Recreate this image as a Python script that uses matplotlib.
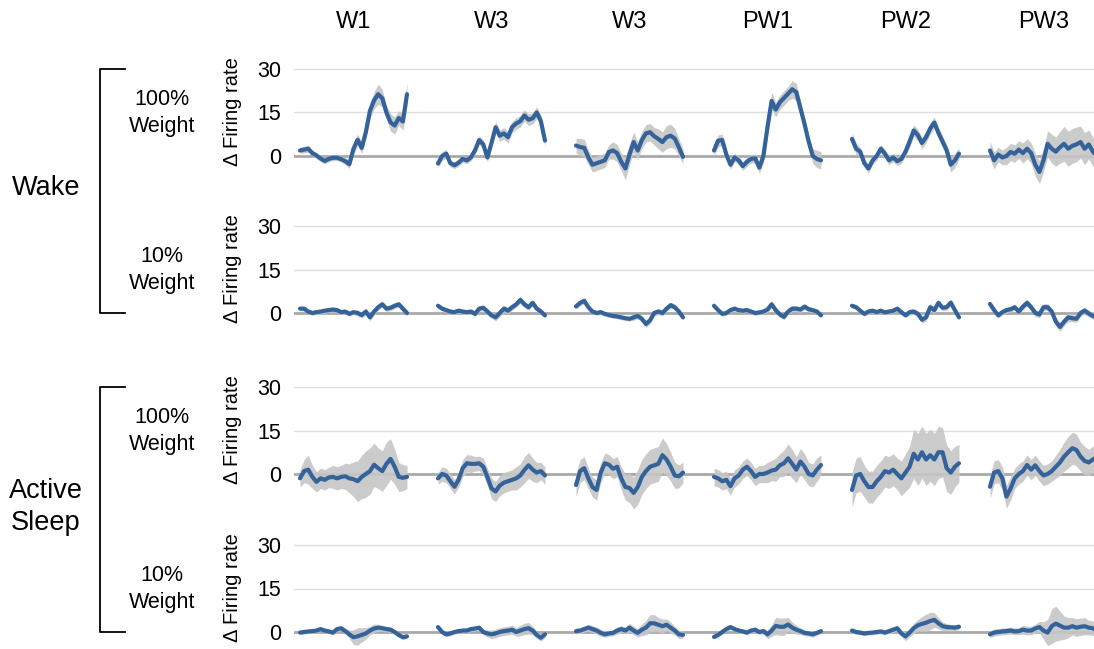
import numpy as np
import matplotlib
matplotlib.use("Agg")
import matplotlib.pyplot as plt

plt.rcParams['font.family'] = ['Liberation Sans', 'DejaVu Sans']

# column titles and row labels
columns = ["W1", "W3", "W3", "PW1", "PW2", "PW3"]
row_weights = ["100%\nWeight", "10%\nWeight", "100%\nWeight", "10%\nWeight"]
state_labels = ["Wake", "Active\nSleep"]
y_ticks = [0, 15, 30]

# mean change in firing rate, one list per column (W1, W3, W3, PW1, PW2, PW3)
wake_100_mean = [
    [1.9, 2.2, 2.5, 1.0, 0.2, -0.9, -1.7, -1.0, -0.6, -0.6, -1.1, -1.8, -2.8, 2.5, 5.6, 2.8, 8.2, 15.6, 19.2, 21.3, 19.9, 15.0, 11.6, 10.5, 13.1, 11.9, 21.3],
    [-2.6, 0.0, 0.8, -2.5, -3.2, -2.3, -1.0, -1.5, -0.5, 2.0, 5.5, 4.0, -0.5, 4.5, 9.9, 7.0, 7.8, 6.5, 10.0, 11.2, 12.0, 14.0, 12.5, 13.0, 15.0, 12.0, 5.3],
    [3.6, 3.1, 2.8, -0.5, -3.0, -2.5, -2.0, -1.5, 1.4, 1.9, 1.0, -2.0, -4.3, 0.5, 4.8, 1.9, 5.5, 7.8, 8.2, 6.8, 5.9, 4.8, 6.5, 7.0, 6.0, 3.0, -0.3],
    [1.9, 5.3, 5.5, 0.5, -3.0, -0.5, -1.5, -3.5, -2.0, -1.0, -0.8, -4.0, 0.0, 10.0, 19.0, 16.0, 18.5, 20.0, 21.5, 23.0, 22.0, 16.5, 11.0, 5.0, 0.0, -1.0, -1.5],
    [5.9, 2.5, 1.5, -2.5, -4.3, -1.5, 0.0, 2.5, 0.8, -1.5, -0.5, -1.8, -1.0, 1.5, 5.0, 8.8, 7.2, 4.5, 6.5, 9.5, 11.5, 8.0, 5.0, 2.0, -3.0, -1.5, 0.8],
    [1.9, -1.5, 0.5, -0.5, 0.0, 1.4, 0.8, 2.2, 1.0, 2.5, 1.0, -3.0, -5.5, -1.5, 4.2, 2.5, 1.5, 3.0, 4.2, 2.5, 3.5, 4.0, 4.8, 2.5, 4.0, 1.5, 0.0],
]
wake_100_err = [
    [1.0, 1.2, 1.2, 1.0, 1.0, 1.0, 1.0, 1.0, 1.0, 1.0, 1.0, 1.2, 1.5, 2.0, 2.0, 2.0, 2.0, 2.5, 3.0, 3.5, 3.0, 2.5, 3.0, 3.0, 2.5, 3.0, 4.0],
    [1.5, 1.5, 1.5, 1.2, 1.2, 1.2, 1.2, 1.2, 1.2, 1.5, 1.5, 1.5, 1.5, 1.5, 2.0, 2.0, 2.0, 2.0, 2.0, 2.0, 2.0, 2.0, 2.0, 2.0, 2.0, 2.0, 2.0],
    [2.5, 3.0, 3.0, 2.5, 2.5, 2.5, 2.5, 2.5, 2.5, 3.0, 3.0, 3.0, 4.0, 3.5, 3.5, 3.0, 3.0, 3.0, 3.0, 3.0, 3.5, 3.5, 4.0, 4.0, 3.5, 3.0, 2.5],
    [2.0, 2.0, 2.0, 1.5, 1.5, 1.5, 1.5, 1.5, 1.5, 1.5, 1.5, 2.0, 2.5, 3.0, 3.0, 2.5, 2.5, 2.5, 2.5, 3.0, 3.0, 2.5, 2.5, 2.0, 2.5, 3.0, 3.0],
    [2.0, 2.0, 1.5, 1.5, 1.5, 1.5, 1.5, 1.5, 1.5, 1.5, 1.5, 1.5, 1.5, 1.5, 2.0, 2.0, 2.0, 2.0, 2.0, 2.0, 2.0, 2.0, 2.0, 2.0, 2.5, 2.5, 2.0],
    [3.0, 3.0, 2.5, 2.5, 3.0, 3.0, 3.0, 3.0, 3.5, 3.5, 3.5, 4.0, 4.0, 4.0, 4.5, 5.0, 5.0, 5.5, 6.0, 6.0, 6.0, 6.0, 5.5, 5.5, 5.0, 5.0, 5.0],
]

wake_10_mean = [
    [1.5, 1.5, 0.5, 0.0, 0.3, 0.5, 0.8, 1.0, 1.2, 1.0, 0.3, 0.5, -0.3, 0.3, 0.0, -0.7, 0.5, -1.5, 0.5, 2.0, 3.0, 1.5, 1.8, 2.5, 3.0, 1.5, 0.0],
    [2.5, 1.5, 1.0, 0.5, 0.3, 0.8, 0.5, 0.3, 0.5, -0.3, 1.5, 1.8, 0.5, -0.8, -1.5, 0.0, 1.5, 0.8, 2.0, 3.0, 4.5, 3.0, 2.0, 3.5, 1.5, 0.5, -0.8],
    [2.3, 3.5, 4.2, 2.0, 0.5, 0.0, 0.3, -0.3, -0.7, -1.0, -1.2, -1.5, -1.8, -2.0, -1.5, -1.0, -2.0, -3.8, -2.5, 0.0, 0.5, 0.0, 1.5, 2.7, 2.0, 0.5, -1.5],
    [2.5, 1.0, -0.3, 0.0, 1.0, 1.5, 1.0, 0.8, 1.0, 0.5, 0.0, 0.2, 0.5, 1.2, 3.0, 1.0, -0.5, -1.3, 0.5, 1.5, 1.5, 1.2, 2.2, 1.3, 1.0, 0.5, -0.8],
    [2.5, 2.0, 0.8, -0.3, 0.5, 0.8, 0.3, 0.8, 0.2, 0.5, 0.8, 1.5, 0.3, -0.8, 0.3, 0.5, -0.3, -2.3, -1.5, 2.0, 1.0, 3.5, 1.8, 2.0, 3.6, 1.0, -1.5],
    [3.1, 1.0, -0.8, 0.3, 1.0, 1.3, 2.0, 0.5, 2.2, 3.5, 2.0, 0.0, -0.5, 2.0, 2.0, 0.5, -3.0, -4.8, -3.0, -1.5, -1.8, -2.0, 0.0, 0.8, -0.2, -1.0, -1.5],
]
wake_10_err = [
    [0.8, 0.8, 0.8, 0.8, 0.8, 0.8, 0.8, 0.8, 0.8, 0.8, 0.8, 0.8, 0.8, 0.8, 1.0, 1.0, 1.2, 1.2, 1.2, 1.0, 1.0, 1.0, 1.0, 1.0, 1.0, 1.0, 1.0],
    [0.8, 0.8, 0.8, 0.8, 0.8, 0.8, 0.8, 0.8, 0.8, 1.0, 1.0, 1.0, 1.0, 1.0, 1.2, 1.2, 1.2, 1.2, 1.0, 1.0, 1.2, 1.2, 1.0, 1.0, 1.0, 1.0, 1.0],
    [1.0, 1.0, 1.0, 1.0, 0.8, 0.8, 0.8, 0.8, 0.8, 0.8, 0.8, 0.8, 0.8, 0.8, 1.0, 1.0, 1.0, 1.2, 1.2, 1.0, 1.0, 1.0, 1.0, 1.0, 1.0, 1.0, 1.0],
    [0.8, 0.8, 0.8, 0.8, 0.8, 0.8, 0.8, 0.8, 0.8, 0.8, 0.8, 0.8, 0.8, 1.0, 1.2, 1.0, 1.0, 1.0, 1.0, 1.0, 1.0, 1.0, 1.0, 1.0, 0.8, 0.8, 0.8],
    [0.8, 0.8, 0.8, 0.8, 0.8, 0.8, 0.8, 0.8, 0.8, 0.8, 0.8, 0.8, 0.8, 0.8, 1.0, 1.0, 1.0, 1.2, 1.2, 1.2, 1.2, 1.2, 1.0, 1.0, 1.0, 1.0, 1.0],
    [1.0, 1.0, 1.0, 1.0, 1.0, 1.0, 1.0, 1.0, 1.2, 1.2, 1.2, 1.2, 1.2, 1.2, 1.2, 1.2, 1.5, 1.5, 1.5, 1.5, 1.2, 1.2, 1.2, 1.2, 1.2, 1.2, 1.2],
]

sleep_100_mean = [
    [-1.5, 1.0, 1.5, -1.0, -2.7, -1.5, -2.0, -1.2, -1.0, -1.5, -1.0, -0.8, -1.5, -1.8, -2.5, -1.0, 0.0, 1.0, 3.2, 2.0, 1.0, 3.5, 5.2, 2.5, -1.0, -1.3, -1.0],
    [-1.5, 0.0, -0.5, -2.5, -4.4, -2.0, 2.0, 3.7, 3.5, 3.5, 3.7, 2.5, -1.0, -5.0, -6.0, -4.0, -3.0, -2.5, -2.0, -1.5, -0.5, 1.4, 3.0, 1.5, 0.5, 1.0, -0.5],
    [-3.8, 1.0, 2.0, -1.5, -4.5, -5.5, 0.5, 3.7, 3.2, 1.8, 2.5, -1.5, -4.5, -4.8, -6.5, -4.5, -1.0, 1.0, 2.5, 3.0, 3.5, 6.5, 5.0, 2.5, -0.5, -0.8, 0.5],
    [-1.0, -1.5, -2.5, -2.0, -4.2, -1.5, -0.5, 1.5, 2.5, 1.0, -1.0, 0.0, 0.0, 0.5, 1.2, 1.5, 3.0, 3.7, 5.4, 3.5, 1.5, 4.3, 2.5, 0.0, -0.5, 1.5, 3.1],
    [-5.5, -0.5, 0.0, -2.5, -4.5, -4.5, -2.5, -1.0, 1.0, 0.5, 1.5, 0.0, -1.5, 0.5, 2.5, 7.0, 5.0, 7.5, 5.0, 6.5, 5.0, 7.5, 7.5, 2.0, 0.5, 2.5, 3.7],
    [-4.4, 0.5, 1.0, -1.5, -7.8, -5.0, -1.5, 0.0, 1.0, 3.1, 1.5, 3.0, 1.0, -0.5, 0.0, 1.0, 2.5, 4.0, 6.0, 7.5, 8.9, 8.3, 6.0, 4.5, 4.0, 5.0, 6.0],
]
sleep_100_err = [
    [3.0, 4.0, 5.0, 4.0, 3.5, 3.5, 3.5, 3.5, 4.0, 4.0, 4.0, 4.5, 5.0, 6.0, 7.0, 7.5, 8.0, 8.0, 7.5, 7.0, 7.0, 7.5, 7.0, 6.0, 5.0, 4.5, 4.0],
    [2.0, 2.5, 2.5, 2.5, 2.5, 2.5, 3.0, 3.0, 3.0, 2.5, 2.5, 3.0, 3.0, 3.5, 3.5, 3.5, 3.5, 3.5, 3.5, 4.0, 4.0, 4.5, 4.5, 4.0, 3.5, 3.0, 3.0],
    [4.0, 4.0, 4.0, 3.5, 3.5, 3.5, 3.5, 3.5, 3.5, 3.5, 3.5, 4.0, 4.5, 5.0, 5.5, 6.0, 6.0, 6.0, 6.0, 6.0, 6.0, 6.0, 5.5, 5.0, 4.5, 4.0, 3.5],
    [3.0, 3.0, 3.0, 3.0, 3.0, 3.0, 3.0, 3.0, 3.0, 3.0, 3.0, 3.0, 3.0, 3.5, 3.5, 4.0, 4.0, 4.5, 5.0, 5.0, 4.5, 4.5, 4.5, 4.0, 4.0, 4.0, 3.5],
    [6.0, 6.0, 6.0, 5.5, 5.5, 5.5, 5.5, 5.5, 5.5, 5.5, 5.5, 5.5, 6.0, 6.5, 7.0, 8.5, 9.0, 9.0, 9.0, 9.0, 9.0, 9.0, 8.5, 8.0, 7.5, 7.0, 6.5],
    [4.0, 4.0, 4.0, 4.0, 4.0, 4.0, 3.5, 3.5, 3.5, 3.5, 3.5, 3.5, 3.5, 3.5, 3.5, 3.5, 4.0, 4.5, 5.0, 5.5, 5.5, 5.5, 5.0, 5.0, 4.5, 4.5, 4.5],
]

sleep_10_mean = [
    [-0.2, 0.0, 0.2, 0.3, 0.5, 1.0, 0.5, 0.2, -0.2, 1.0, 1.3, 0.3, -0.8, -1.8, -1.5, -1.0, -0.5, 0.5, 1.2, 1.5, 1.3, 1.0, 0.8, 0.0, -1.0, -1.8, -1.5],
    [1.7, 0.0, -0.8, -0.5, 0.0, 0.3, 0.5, 0.5, 1.0, 1.2, 1.5, 0.0, -0.5, -0.8, -0.5, 0.0, 0.3, 0.5, 0.8, 0.0, 0.5, 1.0, 1.3, 0.5, -1.0, -2.0, -0.8],
    [0.3, 0.5, 1.0, 1.5, 1.0, 0.5, -0.3, -0.8, -0.5, -0.3, 0.5, 1.0, 0.5, 1.5, 0.5, -0.3, 0.8, 1.5, 3.0, 3.0, 2.5, 2.0, 2.5, 1.5, 0.5, -0.8, -1.0],
    [-1.7, -1.0, 0.0, 1.0, 1.7, 1.0, 0.5, 0.2, -0.2, 0.5, 0.8, 0.0, 0.3, -0.8, 0.5, 2.1, 1.8, 1.8, 2.6, 1.5, 0.8, 0.3, -0.3, -0.5, -0.8, -0.3, 0.3],
    [0.5, 0.0, -0.2, -0.5, -0.3, -0.2, 0.0, 0.2, -0.2, 0.3, 0.8, 1.3, -0.5, -1.5, -0.2, 1.3, 2.3, 2.8, 3.2, 3.8, 4.2, 3.0, 2.0, 1.7, 1.6, 1.5, 1.8],
    [-0.8, -0.2, 0.0, 0.2, 0.3, 0.5, 0.2, 0.3, 0.8, 0.5, 0.5, 1.2, 1.7, 0.5, -0.2, 2.0, 2.9, 2.2, 1.5, 1.5, 2.0, 1.5, 1.8, 2.0, 1.5, 1.3, 0.5],
]
sleep_10_err = [
    [0.7, 0.7, 0.7, 0.7, 0.7, 0.7, 0.7, 0.7, 0.8, 0.8, 0.8, 1.0, 1.5, 2.5, 3.0, 2.5, 2.0, 1.5, 1.5, 1.2, 1.0, 1.0, 1.0, 0.8, 0.8, 0.8, 0.8],
    [0.8, 0.8, 0.8, 0.8, 0.8, 0.8, 0.8, 0.8, 0.8, 0.8, 0.8, 1.0, 1.2, 1.5, 1.5, 1.5, 1.5, 1.5, 1.5, 1.5, 1.8, 2.0, 2.0, 1.5, 1.2, 1.2, 1.0],
    [1.0, 1.0, 1.0, 1.2, 1.2, 1.2, 1.2, 1.0, 1.0, 1.0, 1.2, 1.2, 1.2, 1.5, 1.5, 1.5, 2.0, 2.5, 3.0, 3.0, 2.5, 2.5, 2.0, 2.0, 1.5, 1.5, 1.2],
    [0.8, 0.8, 0.8, 0.8, 0.8, 0.8, 0.8, 0.8, 0.8, 0.8, 0.8, 0.8, 1.0, 1.5, 2.0, 3.0, 3.0, 3.0, 2.5, 2.0, 1.5, 1.2, 1.0, 1.0, 1.0, 0.8, 0.8],
    [0.8, 0.8, 0.8, 0.8, 0.8, 0.8, 0.8, 0.8, 0.8, 0.8, 1.0, 1.0, 1.2, 1.5, 1.5, 1.8, 2.0, 2.5, 3.0, 3.0, 2.5, 2.0, 1.5, 1.2, 1.0, 1.0, 1.0],
    [1.2, 1.2, 1.2, 1.2, 1.2, 1.2, 1.2, 1.2, 1.5, 1.5, 1.5, 1.5, 2.0, 3.0, 4.5, 6.0, 6.0, 5.0, 4.0, 3.5, 3.0, 3.0, 3.0, 3.0, 2.5, 2.5, 2.5],
]

rows = [
    (wake_100_mean, wake_100_err),
    (wake_10_mean, wake_10_err),
    (sleep_100_mean, sleep_100_err),
    (sleep_10_mean, sleep_10_err),
]

# layout in pixels of the 1094x649 figure
W, H = 1094, 649
ppu = 2.9                         # pixels per firing-rate unit
zero_px = [156, 313, 474, 632]    # y pixel of the 0 line in each row
ylo, yhi = -12, 32
ax_left, ax_right = 294, 1094
seg_start, seg_width, seg_pitch = 300, 107, 138

line_color = "#33639a"
band_color = "#c6c6c6"

fig = plt.figure(figsize=(W / 100, H / 100), dpi=100)

def fx(px):
    return px / W

def fy(py):
    return 1 - py / H

for r, (means, errs) in enumerate(rows):
    z = zero_px[r]
    top = z - yhi * ppu
    bot = z - ylo * ppu
    ax = fig.add_axes([fx(ax_left), fy(bot), fx(ax_right - ax_left), (bot - top) / H])
    ax.set_facecolor("none")
    for s in ax.spines.values():
        s.set_visible(False)
    x0 = (seg_start - ax_left) / seg_width
    ax.set_xlim(-x0, -x0 + (ax_right - ax_left) / seg_width)
    ax.set_ylim(ylo, yhi)
    for t in y_ticks[1:]:
        ax.axhline(t, color="#dedede", lw=1.0, zorder=0)
    ax.axhline(0, color="#a9a9a9", lw=2.0, zorder=1)
    for k in range(len(columns)):
        m = np.array(means[k])
        e = np.array(errs[k])
        x = k * seg_pitch / seg_width + np.linspace(0, 1, len(m))
        ax.fill_between(x, m - e, m + e, color=band_color, lw=0, alpha=0.9, zorder=2)
        ax.plot(x, m, color=line_color, lw=3.0, solid_capstyle="round",
                solid_joinstyle="round", zorder=3)
    ax.set_xticks([])
    ax.set_yticks(y_ticks)
    ax.set_yticklabels([str(t) for t in y_ticks], fontsize=15.5)
    ax.tick_params(axis="y", length=0, pad=9)

    fig.text(fx(233), fy(z - 44), "\u0394 Firing rate", rotation=90,
             ha="center", va="center", fontsize=14.5)
    fig.text(fx(162), fy(z - 43), row_weights[r], ha="center", va="center",
             fontsize=15.5, linespacing=1.35)

# column titles
for k, name in enumerate(columns):
    cx = seg_start + k * seg_pitch + seg_width / 2
    fig.text(fx(cx), fy(22), name, ha="center", va="center", fontsize=17)

# state brackets
for i, label in enumerate(state_labels):
    ytop = zero_px[2 * i] - 30 * ppu
    ybot = zero_px[2 * i + 1]
    fig.add_artist(plt.Line2D([fx(125), fx(100), fx(100), fx(125)],
                              [fy(ytop), fy(ytop), fy(ybot), fy(ybot)],
                              color="black", lw=1.3, transform=fig.transFigure))
    fig.text(fx(46), fy((ytop + ybot) / 2 - 3), label, ha="center", va="center",
             fontsize=19.5, linespacing=1.3)

fig.savefig("out.png", dpi=100)
